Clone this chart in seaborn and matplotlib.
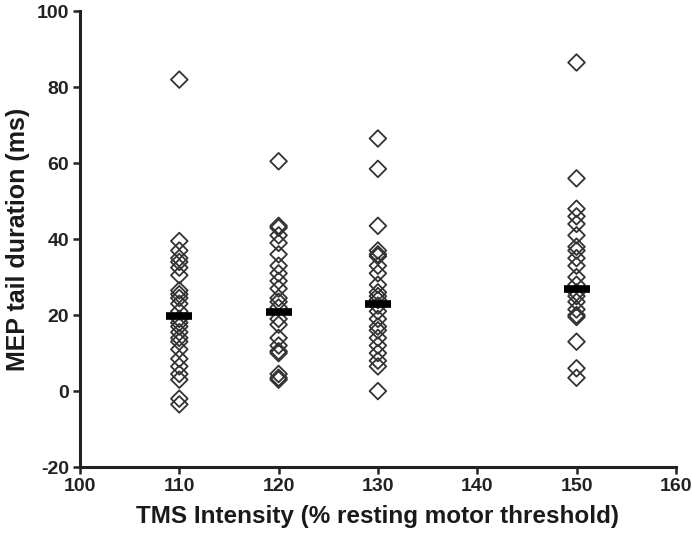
import matplotlib
matplotlib.use("Agg")
import matplotlib.pyplot as plt
import seaborn as sns
import pandas as pd

# MEP tail duration (ms) per subject
tail_110 = [82, 39.5, 37, 35, 34, 32.5, 30.5, 26.5, 25.5, 24.5, 23, 21, 19, 18, 17,
            15.5, 14, 13, 11, 8.5, 6.5, 4.5, 3, -2, -3.5]
tail_120 = [60.5, 43.5, 43, 41, 39, 36, 33, 31, 29, 27, 24.5, 23.5, 22, 19, 17.5,
            14, 12, 10.5, 10, 4.5, 3.5, 3]
tail_130 = [66.5, 58.5, 43.5, 37, 36, 35.5, 33, 31, 28, 26, 25, 24, 22.5, 21, 19,
            17, 16, 14, 12, 10, 8, 6.5, 0]
tail_150 = [86.5, 56, 48, 46, 44, 41, 38, 37, 35, 33, 30, 28, 26, 25, 23.5, 21.5,
            20, 19.5, 13, 6, 3.5]
intensities = [110, 120, 130, 150]
group_means = [19.8, 20.8, 22.8, 26.8]

rows = []
for level, vals in zip(intensities, [tail_110, tail_120, tail_130, tail_150]):
    rows += [(level, v) for v in vals]
df = pd.DataFrame(rows, columns=["intensity", "duration"])
means = pd.DataFrame({"intensity": intensities, "duration": group_means})

sns.set_style("white")
plt.rcParams["font.family"] = ["Liberation Sans", "DejaVu Sans"]
plt.rcParams["font.weight"] = "bold"
plt.rcParams["axes.unicode_minus"] = False

fig = plt.figure(figsize=(6.92, 5.35), dpi=100)
ax = fig.add_axes([0.1156, 0.127, 0.861, 0.852])

sns.scatterplot(data=df, x="intensity", y="duration", marker="D", s=72,
                facecolors="none", edgecolors="#333333", linewidth=1.3, ax=ax)
sns.scatterplot(data=means, x="intensity", y="duration", marker="_", s=340,
                color="black", linewidth=5.5, ax=ax, zorder=5)

ax.set_xlim(100, 160)
ax.set_ylim(-20, 100)
ax.set_xticks(range(100, 161, 10))
ax.set_yticks(range(-20, 101, 20))
ax.set_xlabel("TMS Intensity (% resting motor threshold)", fontsize=17.5,
              fontweight="bold", labelpad=7, color="#1a1a1a")
ax.set_ylabel("MEP tail duration (ms)", fontsize=18, fontweight="bold",
              labelpad=5, color="#1a1a1a")
ax.tick_params(axis="both", labelsize=14, length=5, width=1.8, direction="out",
               color="#222222", labelcolor="#222222", pad=3,
               bottom=True, left=True)
for lbl in ax.get_xticklabels() + ax.get_yticklabels():
    lbl.set_fontweight("bold")
sns.despine(ax=ax)
for side in ["left", "bottom"]:
    ax.spines[side].set_linewidth(2.2)
    ax.spines[side].set_color("#222222")

fig.savefig("out.png", dpi=100)
